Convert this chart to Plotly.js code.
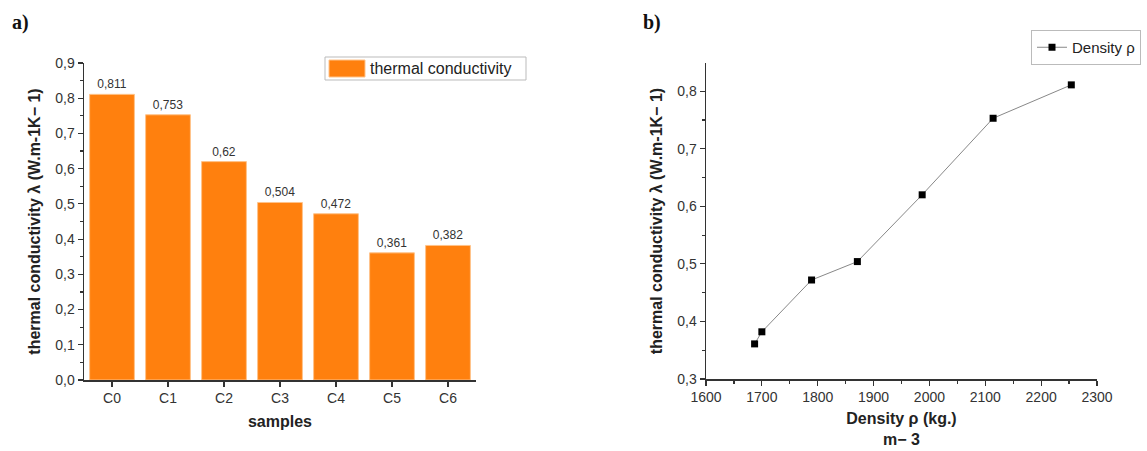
<!DOCTYPE html>
<html><head><meta charset="utf-8">
<script src="https://cdn.plot.ly/plotly-3.0.1.min.js"></script>
<style>html,body{margin:0;padding:0;background:#fff}</style>
</head><body><div id="chart" style="width:1147px;height:451px"></div>
<script>
const samples = ['C0','C1','C2','C3','C4','C5','C6'];
const conductivity = [0.811, 0.753, 0.62, 0.504, 0.472, 0.361, 0.382];
const density = [1687, 1700, 1789, 1871, 1987, 2114, 2254];
const conductivityByDensity = [0.361, 0.382, 0.472, 0.504, 0.62, 0.753, 0.811];
const yTitle = 'thermal conductivity λ (W.m-1K− 1)';

const W = 1147, H = 451;
const px = x => x / W, py = y => 1 - y / H;
const font = 'Liberation Sans, Arial, sans-serif';

const bar = {
  type: 'bar', x: samples, y: conductivity, xaxis: 'x', yaxis: 'y',
  marker: {color: '#ff800e', line: {color: '#ffc38a', width: 1}},
  text: conductivity.map(v => String(v).replace('.', ',')),
  textposition: 'outside', cliponaxis: false,
  textfont: {family: font, size: 12, color: '#333'},
  showlegend: false, name: 'thermal conductivity'
};
const line = {
  type: 'scatter', mode: 'lines+markers', x: density, y: conductivityByDensity,
  xaxis: 'x2', yaxis: 'y2', name: 'Density ρ',
  line: {color: '#888', width: 1},
  marker: {symbol: 'square', size: 7, color: '#000'}
};

const axisCommon = {
  showline: true, linecolor: '#333', linewidth: 1.5, ticks: 'outside', ticklen: 5,
  tickcolor: '#333', tickwidth: 1.2, showgrid: false, zeroline: false,
  tickfont: {family: font, size: 14, color: '#333'},
  mirror: false
};
const titleFont = {family: font, size: 16, color: '#222'};

const layout = {
  width: W, height: H, margin: {l: 0, r: 0, t: 0, b: 0},
  paper_bgcolor: '#fff', plot_bgcolor: '#fff',
  separators: ',.',
  bargap: 0.2,
  font: {family: font},
  xaxis: Object.assign({}, axisCommon, {
    domain: [px(84), px(476)], anchor: 'y', range: [-0.5, 6.5],
    title: {text: '<b>samples</b>', font: titleFont, standoff: 10}
  }),
  yaxis: Object.assign({}, axisCommon, {
    domain: [py(380), py(63)], anchor: 'x', range: [0, 0.9], dtick: 0.1, tickformat: '.1f',
    minor: {ticks: 'outside', ticklen: 3, dtick: 0.05, tickcolor: '#333'},
    title: {text: '<b>' + yTitle + '</b>', font: titleFont, standoff: 10}
  }),
  xaxis2: Object.assign({}, axisCommon, {
    domain: [px(706), px(1097)], anchor: 'y2', range: [1600, 2300], dtick: 100,
    minor: {ticks: 'outside', ticklen: 3, dtick: 50, tickcolor: '#333'},
    title: {text: '<b>Density ρ (kg.)<br>m− 3</b>', font: titleFont, standoff: 8}
  }),
  yaxis2: Object.assign({}, axisCommon, {
    domain: [py(379), py(63)], anchor: 'x2', range: [0.3, 0.849], dtick: 0.1, tickformat: '.1f',
    minor: {ticks: 'outside', ticklen: 3, dtick: 0.05, tickcolor: '#333'},
    title: {text: '<b>' + yTitle + '</b>', font: titleFont, standoff: 10}
  }),
  showlegend: true,
  legend: {
    x: px(1031), y: py(30), xanchor: 'left', yanchor: 'top',
    bgcolor: '#fff', bordercolor: '#bbb', borderwidth: 1,
    font: {family: font, size: 15, color: '#222'}
  },
  shapes: [
    {type: 'rect', xref: 'paper', yref: 'paper', x0: px(325), x1: px(526), y0: py(57), y1: py(80),
     line: {color: '#bbb', width: 1}, fillcolor: '#fff'},
    {type: 'rect', xref: 'paper', yref: 'paper', x0: px(329), x1: px(365), y0: py(60), y1: py(77),
     line: {color: '#ffc38a', width: 1}, fillcolor: '#ff800e'}
  ],
  annotations: [
    {xref: 'paper', yref: 'paper', x: px(368), y: py(68.5), xanchor: 'left', yanchor: 'middle',
     text: 'thermal conductivity', showarrow: false, font: {family: font, size: 16, color: '#222'}},
    {xref: 'paper', yref: 'paper', x: px(10), y: py(22), xanchor: 'left', yanchor: 'middle',
     text: '<b>a)</b>', showarrow: false, font: {family: 'Liberation Serif, Times New Roman, serif', size: 20, color: '#111'}},
    {xref: 'paper', yref: 'paper', x: px(641), y: py(22), xanchor: 'left', yanchor: 'middle',
     text: '<b>b)</b>', showarrow: false, font: {family: 'Liberation Serif, Times New Roman, serif', size: 20, color: '#111'}}
  ]
};

Plotly.newPlot('chart', [bar, line], layout, {staticPlot: true, displayModeBar: false});
</script></body></html>
